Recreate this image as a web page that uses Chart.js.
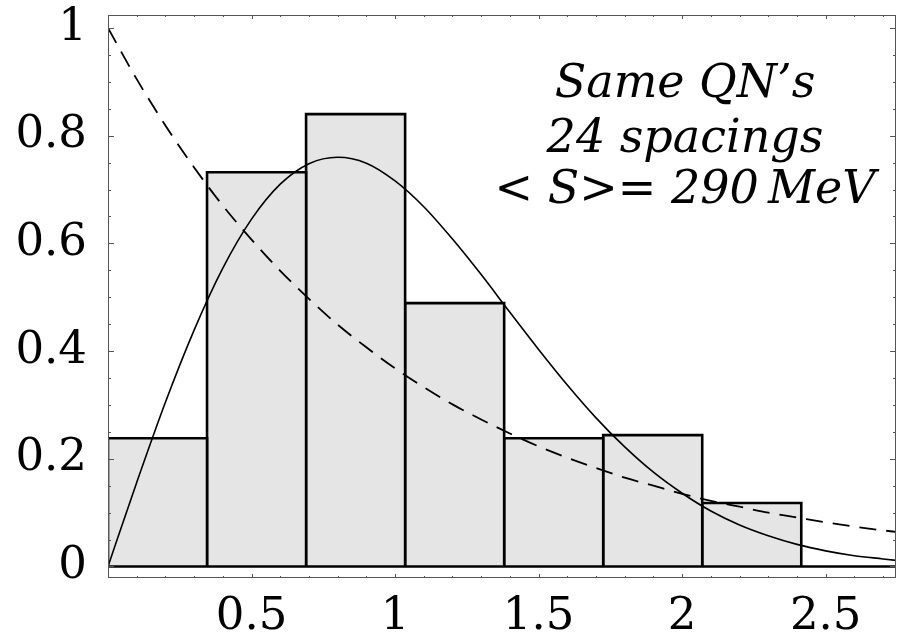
<!DOCTYPE html>
<html>
<head>
<meta charset="utf-8">
<script src="https://cdn.jsdelivr.net/npm/chart.js@4.4.1/dist/chart.umd.min.js"></script>
<style>
html, body { margin: 0; padding: 0; background: #fff; }
</style>
</head>
<body>
<canvas id="myChart" width="897" height="638"></canvas>
<script>
// histogram of normalised spacings (24 spacings)
const binEdges = [0, 0.345, 0.69, 1.035, 1.38, 1.725, 2.07, 2.415];
const binHeights = [0.238, 0.732, 0.84, 0.489, 0.238, 0.244, 0.118];

// curves
const curveS = [0, 0.1, 0.2, 0.3, 0.4, 0.5, 0.6, 0.7, 0.8, 0.9, 1.0, 1.1, 1.2, 1.3, 1.4,
    1.5, 1.6, 1.7, 1.8, 1.9, 2.0, 2.1, 2.2, 2.3, 2.4, 2.5, 2.6, 2.7, 2.75];
const wignerP = [0, 0.156, 0.305, 0.439, 0.554, 0.645, 0.71, 0.748, 0.76, 0.749, 0.716,
    0.668, 0.608, 0.542, 0.472, 0.403, 0.337, 0.276, 0.222, 0.175, 0.136, 0.103, 0.077,
    0.057, 0.041, 0.029, 0.02, 0.014, 0.011];
const poissonP = [1, 0.905, 0.819, 0.741, 0.67, 0.607, 0.549, 0.497, 0.449, 0.407, 0.368,
    0.333, 0.301, 0.273, 0.247, 0.223, 0.202, 0.183, 0.165, 0.15, 0.135, 0.122, 0.111,
    0.1, 0.091, 0.082, 0.074, 0.067, 0.064];

// ticks
const xTickValues = [0.1, 0.2, 0.3, 0.4, 0.5, 0.6, 0.7, 0.8, 0.9, 1.0, 1.1, 1.2, 1.3, 1.4,
    1.5, 1.6, 1.7, 1.8, 1.9, 2.0, 2.1, 2.2, 2.3, 2.4, 2.5, 2.6, 2.7];
const xLabelValues = [0.5, 1, 1.5, 2, 2.5];
const xLabels = ["0.5", "1", "1.5", "2", "2.5"];
const yTickValues = [0, 0.05, 0.1, 0.15, 0.2, 0.25, 0.3, 0.35, 0.4, 0.45, 0.5, 0.55, 0.6,
    0.65, 0.7, 0.75, 0.8, 0.85, 0.9, 0.95, 1.0];
const yLabelValues = [0, 0.2, 0.4, 0.6, 0.8, 1];
const yLabels = ["0", "0.2", "0.4", "0.6", "0.8", "1"];

const noteLines = ["Same QN\u2019s", "24 spacings", "< S>= 290\u2009MeV"];

function findLabel(v, values, labels) {
    const i = values.findIndex((w) => Math.abs(w - v) < 1e-6);
    return i < 0 ? "" : labels[i];
}

const curveData = (ys) => curveS.map((s, i) => ({ x: s, y: ys[i] }));

const barSets = binHeights.map((h, i) => ({
    type: "line",
    data: [
        { x: binEdges[i], y: 0 },
        { x: binEdges[i], y: h },
        { x: binEdges[i + 1], y: h },
        { x: binEdges[i + 1], y: 0 },
    ],
    borderColor: "#000",
    borderWidth: 2.6,
    backgroundColor: "#e5e5e5",
    fill: "origin",
    pointRadius: 0,
    tension: 0,
    order: 2,
}));

const framePlugin = {
    id: "frame",
    afterDatasetsDraw(chart) {
        const { ctx, chartArea: a, scales: { x, y } } = chart;
        ctx.save();
        // y = 0 axis line
        const y0 = y.getPixelForValue(0);
        ctx.strokeStyle = "#000";
        ctx.lineWidth = 2.5;
        ctx.beginPath();
        ctx.moveTo(a.left, y0);
        ctx.lineTo(a.right, y0);
        ctx.stroke();

        // frame and inward ticks
        ctx.strokeStyle = "#555";
        ctx.lineWidth = 1;
        ctx.strokeRect(a.left + 0.5, a.top + 0.5, a.right - a.left - 1, a.bottom - a.top - 1);
        ctx.beginPath();
        xTickValues.forEach((v) => {
            const px = Math.round(x.getPixelForValue(v)) + 0.5;
            const len = findLabel(v, xLabelValues, xLabels) ? 4 : 2;
            ctx.moveTo(px, a.bottom);
            ctx.lineTo(px, a.bottom - len);
            ctx.moveTo(px, a.top);
            ctx.lineTo(px, a.top + len);
        });
        yTickValues.forEach((v) => {
            const py = Math.round(y.getPixelForValue(v)) + 0.5;
            const len = findLabel(v, yLabelValues, yLabels) ? 6 : 3;
            ctx.moveTo(a.left, py);
            ctx.lineTo(a.left + len, py);
            ctx.moveTo(a.right, py);
            ctx.lineTo(a.right - len, py);
        });
        ctx.stroke();

        // annotation
        ctx.fillStyle = "#000";
        ctx.font = 'italic 46px "DejaVu Serif"';
        ctx.textAlign = "center";
        ctx.textBaseline = "alphabetic";
        const cx = x.getPixelForValue(2.01);
        [0.872, 0.77, 0.675].forEach((v, i) => {
            ctx.fillText(noteLines[i], cx, y.getPixelForValue(v));
        });
        ctx.restore();
    },
};

const config = {
    type: "line",
    data: {
        datasets: [
            {
                data: curveData(wignerP),
                borderColor: "#000",
                borderWidth: 1.6,
                pointRadius: 0,
                cubicInterpolationMode: "monotone",
                fill: false,
                order: 0,
            },
            {
                data: curveData(poissonP),
                borderColor: "#000",
                borderWidth: 1.8,
                borderDash: [17, 10],
                pointRadius: 0,
                cubicInterpolationMode: "monotone",
                fill: false,
                order: 1,
            },
            ...barSets,
        ],
    },
    options: {
        responsive: false,
        animation: false,
        layout: { padding: { top: 15, right: 1, left: 0, bottom: 0 } },
        plugins: { legend: { display: false }, tooltip: { enabled: false } },
        scales: {
            x: {
                type: "linear",
                min: 0,
                max: 2.745,
                grid: { display: false, drawTicks: false },
                border: { display: false },
                afterBuildTicks: (s) => { s.ticks = xTickValues.map((v) => ({ value: v })); },
                afterFit: (s) => { s.height = 60; s.paddingLeft = 0; s.paddingRight = 0; },
                ticks: {
                    autoSkip: false,
                    maxRotation: 0,
                    padding: 12,
                    color: "#000",
                    font: { family: "DejaVu Serif", size: 45 },
                    callback: (v) => findLabel(v, xLabelValues, xLabels),
                },
            },
            y: {
                type: "linear",
                min: -0.0214,
                max: 1.0241,
                grid: { display: false, drawTicks: false },
                border: { display: false },
                afterBuildTicks: (s) => { s.ticks = yTickValues.map((v) => ({ value: v })); },
                afterFit: (s) => { s.width = 108; s.paddingTop = 0; s.paddingBottom = 0; },
                ticks: {
                    autoSkip: false,
                    padding: 21,
                    color: "#000",
                    font: { family: "DejaVu Serif", size: 45 },
                    callback: (v) => findLabel(v, yLabelValues, yLabels),
                },
            },
        },
    },
    plugins: [framePlugin],
};

new Chart(document.getElementById("myChart"), config);
</script>
</body>
</html>
